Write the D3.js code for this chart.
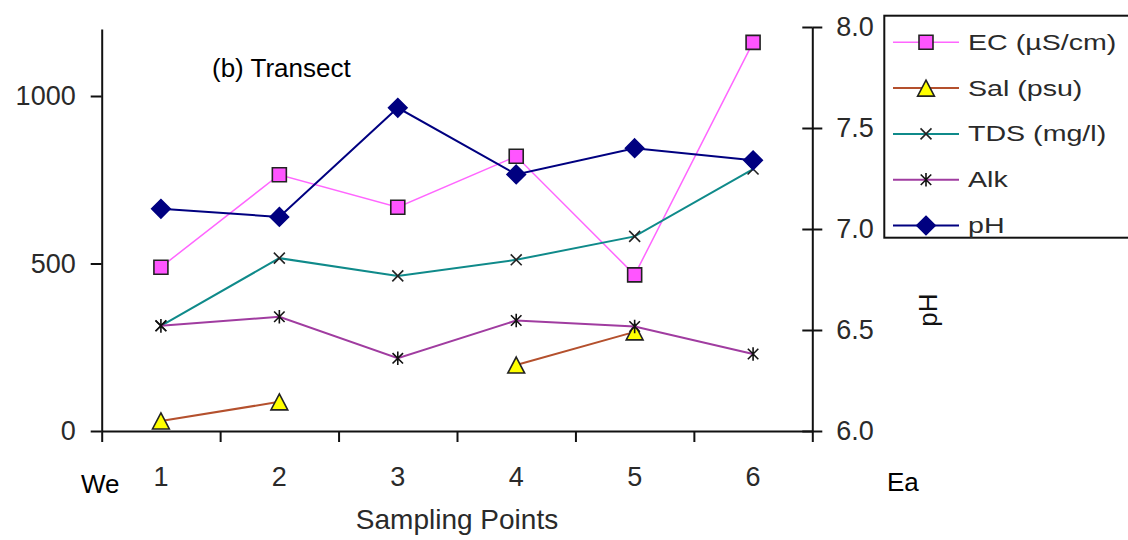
<!DOCTYPE html>
<html>
<head>
<meta charset="utf-8">
<script src="https://cdn.jsdelivr.net/npm/d3@7"></script>
<style>
  body { margin: 0; background: #fff; }
  text { font-family: "Liberation Sans", Arial, sans-serif; }
</style>
</head>
<body>
<div id="chart"></div>
<script>
// data
var points = ["1", "2", "3", "4", "5", "6"];
var ecValues  = [489, 765, 668, 820, 466, 1160];
var salValues = [30, 87, null, 197, 296, null];
var tdsValues = [314, 516, 463, 511, 581, 782];
var alkValues = [314, 341, 217, 330, 312, 230];
var phValues  = [7.10, 7.06, 7.60, 7.27, 7.40, 7.34];
var seriesNames = ["EC (\u00b5S/cm)", "Sal (psu)", "TDS (mg/l)", "Alk", "pH"];
var leftTicks = [0, 500, 1000];
var rightTicks = [6.0, 6.5, 7.0, 7.5, 8.0];

var width = 1128, height = 540;

var svg = d3.select("#chart").append("svg")
    .attr("width", width)
    .attr("height", height);

var x = d3.scaleBand().domain(points).range([101.7, 812.3]);
var yL = d3.scaleLinear().domain([0, 1200]).range([431, 29]);
var yR = d3.scaleLinear().domain([6, 8]).range([431, 27]);

// custom markers
var triangle = { draw: function(ctx, size) {
  var r = Math.sqrt(size) / 2;
  ctx.moveTo(0, -r);
  ctx.lineTo(r * 1.05, r);
  ctx.lineTo(-r * 1.05, r);
  ctx.closePath();
}};
var star = { draw: function(ctx, size) {
  var r = Math.sqrt(size) / 2;
  ctx.moveTo(-r, -r); ctx.lineTo(r, r);
  ctx.moveTo(-r, r); ctx.lineTo(r, -r);
  ctx.moveTo(0, -r * 1.3); ctx.lineTo(0, r * 1.3);
}};
var cross = { draw: function(ctx, size) {
  var r = Math.sqrt(size) / 2;
  ctx.moveTo(-r, -r); ctx.lineTo(r, r);
  ctx.moveTo(-r, r); ctx.lineTo(r, -r);
}};
var diamond = { draw: function(ctx, size) {
  var r = Math.sqrt(size) / 2;
  ctx.moveTo(0, -r); ctx.lineTo(r, 0); ctx.lineTo(0, r); ctx.lineTo(-r, 0);
  ctx.closePath();
}};

var series = [
  {name: seriesNames[0], values: ecValues,  y: yL, line: "#ff66ff", lw: 1.5, type: d3.symbolSquare, size: 196, fill: "#ff55ff", stroke: "#222"},
  {name: seriesNames[1], values: salValues, y: yL, line: "#b4502d", lw: 2, type: triangle, size: 256, fill: "#ffff00", stroke: "#222"},
  {name: seriesNames[2], values: tdsValues, y: yL, line: "#0f8a8a", lw: 2, type: cross, size: 120, fill: "none", stroke: "#222"},
  {name: seriesNames[3], values: alkValues, y: yL, line: "#a03ca0", lw: 2, type: star, size: 110, fill: "none", stroke: "#111"},
  {name: seriesNames[4], values: phValues,  y: yR, line: "#000080", lw: 2, type: diamond, size: 340, fill: "#000080", stroke: "#000080"}
];

// axes
var axisColor = "#111";
var labelColor = "#2a2a2a";

var gL = svg.append("g").attr("transform", "translate(101.7,0)")
    .call(d3.axisLeft(yL).tickValues(leftTicks).tickFormat(d3.format("d"))
      .tickSize(11).tickSizeOuter(0).tickPadding(15));

var gR = svg.append("g").attr("transform", "translate(812.3,0)")
    .call(d3.axisRight(yR).tickValues(rightTicks).tickFormat(d3.format(".1f")).tickSize(10).tickSizeOuter(0).tickPadding(14));
gR.selectAll(".tick").append("line").attr("x2", -10);

var bound = d3.scaleLinear().domain([0, points.length]).range(x.range());
var gB = svg.append("g").attr("transform", "translate(0,431)")
    .call(d3.axisBottom(bound).tickValues(d3.range(points.length + 1)).tickFormat("").tickSize(11).tickSizeOuter(0));

var gX = svg.append("g").attr("transform", "translate(0,431)")
    .call(d3.axisBottom(x).tickSize(0).tickPadding(36));
gX.select(".domain").remove();

[gL, gR, gB, gX].forEach(function(g) {
  g.selectAll("path.domain").attr("stroke", axisColor).attr("stroke-width", 2);
  g.selectAll(".tick line").attr("stroke", axisColor).attr("stroke-width", 2);
  g.selectAll(".tick text")
    .attr("fill", labelColor)
    .style("font-size", "27px")
    .style("font-family", "'Liberation Sans', Arial, sans-serif");
});

// series
series.forEach(function(s) {
  var line = d3.line()
      .defined(function(d) { return d != null; })
      .x(function(d, i) { return x(points[i]) + x.bandwidth() / 2; })
      .y(function(d) { return s.y(d); });

  svg.append("path")
      .datum(s.values)
      .attr("fill", "none")
      .attr("stroke", s.line)
      .attr("stroke-width", s.lw)
      .attr("d", line);

  var sym = d3.symbol().type(s.type).size(s.size);
  svg.append("g").selectAll("path")
    .data(s.values.map(function(v, i) { return {v: v, p: points[i]}; })
      .filter(function(d) { return d.v != null; }))
    .enter().append("path")
      .attr("transform", function(d) {
        return "translate(" + (x(d.p) + x.bandwidth() / 2) + "," + s.y(d.v) + ")";
      })
      .attr("d", sym)
      .attr("fill", s.fill)
      .attr("stroke", s.stroke)
      .attr("stroke-width", 1.6);
});

// texts
svg.append("text")
    .attr("x", 212).attr("y", 77)
    .style("font-size", "26px")
    .attr("fill", "#000")
    .text("(b) Transect");

svg.append("text")
    .attr("x", 457).attr("y", 529)
    .attr("text-anchor", "middle")
    .style("font-size", "28px")
    .attr("fill", labelColor)
    .text("Sampling Points");

svg.append("text")
    .attr("x", 81).attr("y", 493)
    .style("font-size", "26px")
    .attr("fill", "#000")
    .text("We");

svg.append("text")
    .attr("x", 887).attr("y", 491)
    .style("font-size", "26px")
    .attr("fill", "#000")
    .text("Ea");

svg.append("text")
    .attr("transform", "translate(937,310) rotate(-90)")
    .attr("text-anchor", "middle")
    .style("font-size", "26px")
    .attr("fill", "#111")
    .text("pH");

// legend
var legend = svg.append("g").attr("class", "legend");
legend.append("rect")
    .attr("x", 884.3).attr("y", 15.7)
    .attr("width", 270).attr("height", 222)
    .attr("fill", "#fff")
    .attr("stroke", "#111")
    .attr("stroke-width", 2);

var rows = legend.selectAll("g.row")
    .data(series)
    .enter().append("g")
    .attr("class", "row")
    .attr("transform", function(d, i) { return "translate(0," + (42.3 + i * 45.8) + ")"; });

rows.append("line")
    .attr("x1", 893).attr("x2", 959)
    .attr("stroke", function(d) { return d.line; })
    .attr("stroke-width", function(d) { return d.lw; });

rows.append("path")
    .attr("transform", "translate(926,0)")
    .attr("d", function(d) { return d3.symbol().type(d.type).size(d.size)(); })
    .attr("fill", function(d) { return d.fill; })
    .attr("stroke", function(d) { return d.stroke; })
    .attr("stroke-width", 1.6);

rows.append("text")
    .attr("transform", "translate(968,7.5) scale(1.3,1)")
    .style("font-size", "22px")
    .attr("fill", labelColor)
    .text(function(d) { return d.name; });
</script>
</body>
</html>
